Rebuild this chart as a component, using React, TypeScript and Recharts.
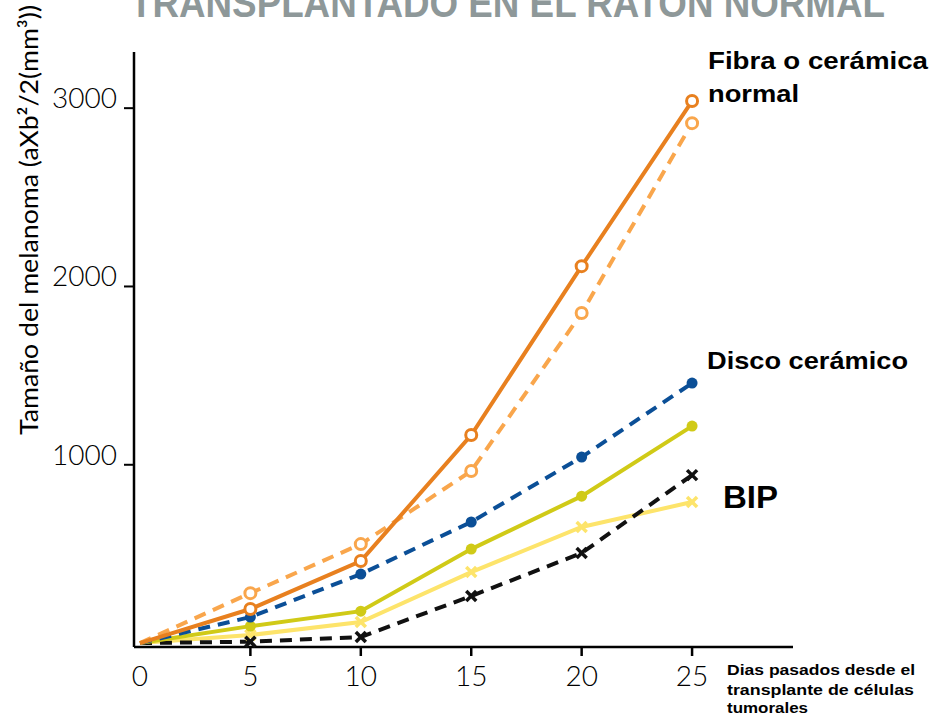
import React from 'react';
import { LineChart, Line, XAxis, YAxis } from 'recharts';

const days = [0, 5, 10, 15, 20, 25];
const fibraNormal = [0, 191, 460, 1167, 2114, 3040];
const fibraCeramica = [0, 280, 555, 965, 1851, 2916];
const discoCeramico = [0, 146, 387, 679, 1043, 1458];
const bipVerde = [0, 95, 179, 527, 824, 1217];
const bipAmarillo = [0, 45, 118, 398, 651, 791];
const bipNegro = [0, 8, 34, 264, 505, 942];

const xTicks = [0, 5, 10, 15, 20, 25];
const yTicks = [1000, 2000, 3000];

const data = days.map((d, i) => ({
    day: d,
    fibraNormal: fibraNormal[i],
    fibraCeramica: fibraCeramica[i],
    discoCeramico: discoCeramico[i],
    bipVerde: bipVerde[i],
    bipAmarillo: bipAmarillo[i],
    bipNegro: bipNegro[i],
}));

const numFont = "Lato, 'Open Sans', sans-serif";
const boldFont = "'Liberation Sans', Arial, sans-serif";

const openDot = (color: string) => (props: any) => {
    const { cx, cy, index } = props;
    if (index === 0) return <g key={`o-${index}`} />;
    return <circle key={`o-${index}`} cx={cx} cy={cy} r={5.5} fill="#fff" stroke={color} strokeWidth={3} />;
};

const fullDot = (color: string) => (props: any) => {
    const { cx, cy, index } = props;
    if (index === 0) return <g key={`f-${index}`} />;
    return <circle key={`f-${index}`} cx={cx} cy={cy} r={5.5} fill={color} stroke="none" />;
};

const crossDot = (color: string) => (props: any) => {
    const { cx, cy, index } = props;
    if (index === 0) return <g key={`x-${index}`} />;
    const s = 5;
    return (
        <g key={`x-${index}`} stroke={color} strokeWidth={3.5} strokeLinecap="butt">
            <line x1={cx - s} y1={cy - s} x2={cx + s} y2={cy + s} />
            <line x1={cx - s} y1={cy + s} x2={cx + s} y2={cy - s} />
        </g>
    );
};

const XTick = (props: any) => {
    const { x, y, payload } = props;
    return (
        <g>
            {payload.value !== 0 && (
                <line x1={x} y1={y - 19} x2={x} y2={y - 10} stroke="#000" strokeWidth={2.5} />
            )}
            <text x={x} y={y} dy={20} textAnchor="middle" fontFamily={numFont} fontWeight={300} fontSize={28} fill="#000">
                {payload.value}
            </text>
        </g>
    );
};

const YTick = (props: any) => {
    const { x, y, payload } = props;
    return (
        <text x={x} y={y} textAnchor="end" fontFamily={numFont} fontWeight={300} fontSize={28} fill="#000">
            {payload.value}
        </text>
    );
};

const App: React.FC = () => {
    return (
        <div style={{ position: 'absolute', left: 0, top: 0, width: 932, height: 717, background: '#fff' }}>
            <LineChart
                width={932}
                height={717}
                data={data}
                margin={{ top: 52, right: 139, left: 0, bottom: 0 }}
            >
                <XAxis
                    dataKey="day"
                    type="number"
                    domain={[-0.27, 29.57]}
                    ticks={xTicks}
                    height={70}
                    stroke="#000"
                    strokeWidth={2.5}
                    tickSize={9}
                    tickMargin={10}
                    tickLine={false}
                    tick={<XTick />}
                />
                <YAxis
                    type="number"
                    domain={[-22, 3315]}
                    ticks={yTicks}
                    width={134}
                    stroke="#000"
                    strokeWidth={2.5}
                    tickSize={10}
                    tickMargin={7}
                    tickLine={{ stroke: '#000', strokeWidth: 2 }}
                    tick={<YTick />}
                />
                <Line type="linear" dataKey="bipAmarillo" stroke="#fde46b" strokeWidth={4} dot={crossDot('#fde46b')} isAnimationActive={false} />
                <Line type="linear" dataKey="bipNegro" stroke="#111" strokeWidth={4} strokeDasharray="12 8" dot={crossDot('#111')} isAnimationActive={false} />
                <Line type="linear" dataKey="bipVerde" stroke="#d0ca17" strokeWidth={4} dot={fullDot('#d0ca17')} isAnimationActive={false} />
                <Line type="linear" dataKey="discoCeramico" stroke="#0b4f97" strokeWidth={4} strokeDasharray="12 8" dot={fullDot('#0b4f97')} isAnimationActive={false} />
                <Line type="linear" dataKey="fibraCeramica" stroke="#f9a64c" strokeWidth={4} strokeDasharray="12 8" dot={openDot('#f9a64c')} isAnimationActive={false} />
                <Line type="linear" dataKey="fibraNormal" stroke="#e8801f" strokeWidth={4} dot={openDot('#e8801f')} isAnimationActive={false} />

                <text x={130} y={17} fontFamily={boldFont} fontWeight={700} fontSize={40} fill="#8e9899" textLength={755} lengthAdjust="spacingAndGlyphs">
                    TRANSPLANTADO EN EL RATON NORMAL
                </text>
                <text x={38} y={220} transform="rotate(-90 38 220)" textAnchor="middle" fontFamily={numFont} fontWeight={400} fontSize={25} fill="#000" textLength={430} lengthAdjust="spacingAndGlyphs">
                    Tamaño del melanoma (aXb²/2(mm³))
                </text>
                <text x={708} y={69} fontFamily={boldFont} fontWeight={700} fontSize={24} fill="#000" textLength={220} lengthAdjust="spacingAndGlyphs">
                    Fibra o cerámica
                </text>
                <text x={708} y={102} fontFamily={boldFont} fontWeight={700} fontSize={24} fill="#000" textLength={91} lengthAdjust="spacingAndGlyphs">
                    normal
                </text>
                <text x={707} y={369} fontFamily={boldFont} fontWeight={700} fontSize={24} fill="#000" textLength={201} lengthAdjust="spacingAndGlyphs">
                    Disco cerámico
                </text>
                <text x={723} y={508} fontFamily={boldFont} fontWeight={700} fontSize={32} fill="#000" textLength={55} lengthAdjust="spacingAndGlyphs">
                    BIP
                </text>
                <text x={727} y={675} fontFamily={boldFont} fontWeight={700} fontSize={15} fill="#000" textLength={188} lengthAdjust="spacingAndGlyphs">
                    Dias pasados desde el
                </text>
                <text x={727} y={695} fontFamily={boldFont} fontWeight={700} fontSize={15} fill="#000" textLength={187} lengthAdjust="spacingAndGlyphs">
                    transplante de células
                </text>
                <text x={727} y={713} fontFamily={boldFont} fontWeight={700} fontSize={15} fill="#000" textLength={81} lengthAdjust="spacingAndGlyphs">
                    tumorales
                </text>
            </LineChart>
        </div>
    );
};

export default App;
